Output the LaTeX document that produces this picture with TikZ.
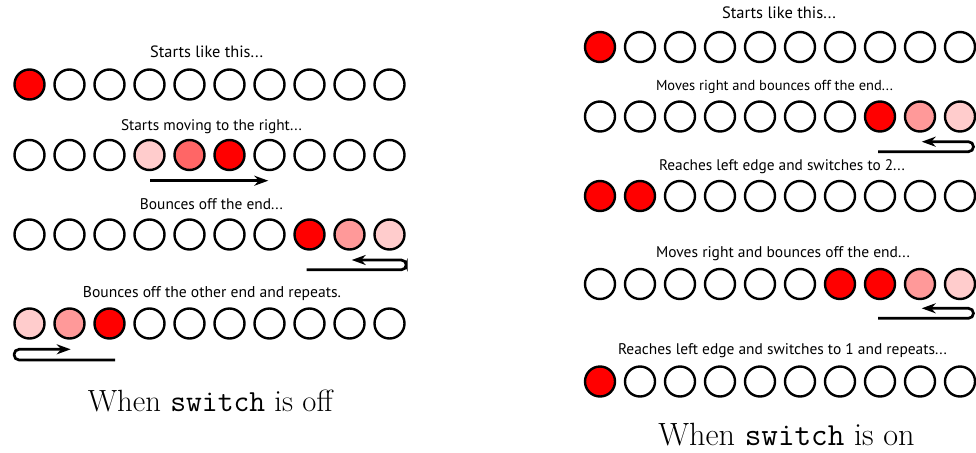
\documentclass[tikz,border=0pt]{standalone}
\usepackage{fontspec}
\usetikzlibrary{arrows.meta}
\newfontfamily\lblfont{PT Sans}
\definecolor{hot}{HTML}{FF0000}
\definecolor{warm}{HTML}{FF6666}
\definecolor{mild}{HTML}{FF9999}
\definecolor{faint}{HTML}{FFCCCC}
\newcommand{\fitlbl}[2]{\resizebox{#1pt}{!}{\lblfont #2}}
\tikzset{
  cell/.style={circle, draw, line width=2.4pt, minimum size=30pt, inner sep=0pt},
  lbl/.style={inner sep=0pt, anchor=base},
  move/.style={line width=2.7pt, rounded corners=5pt, -{Stealth[length=14pt,width=10pt,inset=4.5pt]}},
  capt/.style={inner sep=0pt, anchor=base},
}

\begin{document}
\begin{tikzpicture}[x=1pt, y=-1pt]
    \useasboundingbox (0,0) rectangle (976,452);

    % switch off
    \node[lbl] (tl1) at (206.7,57.7) {\fitlbl{113}{Starts like this...}};
    \foreach \c [count=\i] in {hot,white,white,white,white,white,white,white,white,white}
      \node[cell, fill=\c] (L1-\i) at ({29.5+40*(\i-1)},84.5) {};
    \node[lbl] (tl2) at (211.5,130.7) {\fitlbl{181}{Starts moving to the right...}};
    \foreach \c [count=\i] in {white,white,white,faint,warm,hot,white,white,white,white}
      \node[cell, fill=\c] (L2-\i) at ({29.5+40*(\i-1)},155) {};
    \draw[move] (150,180.7) -- (268.3,180.7);
    \node[lbl] (tl3) at (211.5,209.3) {\fitlbl{143}{Bounces off the end...}};
    \foreach \c [count=\i] in {white,white,white,white,white,white,white,hot,mild,faint}
      \node[cell, fill=\c] (L3-\i) at ({29.5+40*(\i-1)},234.5) {};
    \draw[move] (306.7,269.8) -- (406.3,269.8) -- (406.3,260) -- (351.7,260);
    \node[lbl] (tl4) at (212,297.3) {\fitlbl{258}{Bounces off the other end and repeats.}};
    \foreach \c [count=\i] in {faint,mild,hot,white,white,white,white,white,white,white}
      \node[cell, fill=\c] (L4-\i) at ({29.5+40*(\i-1)},323.5) {};
    \draw[move] (115,360) -- (14.1,360) -- (14.1,349.3) -- (70.7,349.3);
    \node[capt, font=\fontsize{30.7}{36}\selectfont] (offcap) at (210.3,411.5) {When \texttt{switch} is off};

    % switch on
    \node[lbl] (tr1) at (779,19) {\fitlbl{114}{Starts like this...}};
    \foreach \c [count=\i] in {hot,white,white,white,white,white,white,white,white,white}
      \node[cell, fill=\c] (R1-\i) at ({600+40*(\i-1)},47) {};
    \node[lbl] (tr2) at (774.5,90) {\fitlbl{237}{Moves right and bounces off the end...}};
    \foreach \c [count=\i] in {white,white,white,white,white,white,white,hot,mild,faint}
      \node[cell, fill=\c] (R2-\i) at ({600+40*(\i-1)},116.5) {};
    \draw[move] (878,151.7) -- (973.5,151.7) -- (973.5,141.7) -- (921.7,141.7);
    \node[lbl] (tr3) at (782,170) {\fitlbl{246}{Reaches left edge and switches to 2...}};
    \foreach \c [count=\i] in {hot,hot,white,white,white,white,white,white,white,white}
      \node[cell, fill=\c] (R3-\i) at ({600+40*(\i-1)},196) {};
    \node[lbl] (tr4) at (783,257.3) {\fitlbl{254}{Moves right and bounces off the end...}};
    \foreach \c [count=\i] in {white,white,white,white,white,white,hot,hot,mild,faint}
      \node[cell, fill=\c] (R4-\i) at ({600+40*(\i-1)},284) {};
    \draw[move] (878,318.3) -- (973.5,318.3) -- (973.5,308.3) -- (921.7,308.3);
    \node[lbl] (tr5) at (782.5,354.3) {\fitlbl{329}{Reaches left edge and switches to 1 and repeats...}};
    \foreach \c [count=\i] in {hot,white,white,white,white,white,white,white,white,white}
      \node[cell, fill=\c] (R5-\i) at ({600+40*(\i-1)},381.5) {};
    \node[capt, font=\fontsize{32.2}{38}\selectfont] (oncap) at (786.5,445.5) {When \texttt{switch} is on};
\end{tikzpicture}
\end{document}
